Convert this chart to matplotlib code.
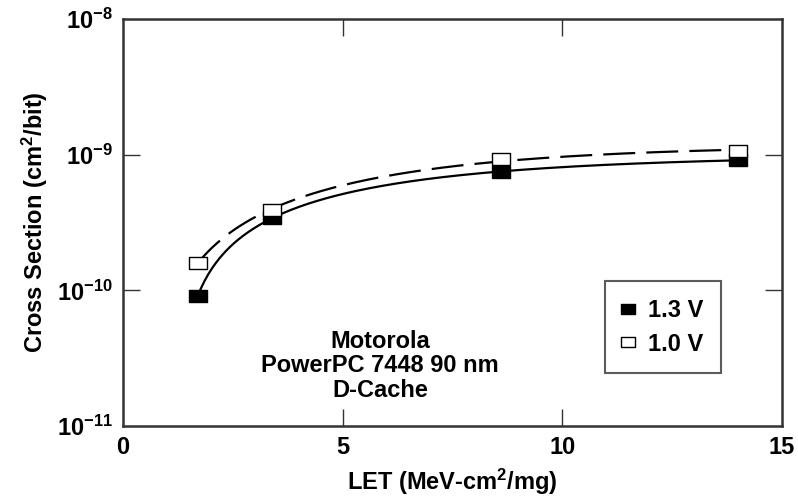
import matplotlib
matplotlib.use('Agg')
import matplotlib.pyplot as plt
import numpy as np

# Data
let_13 = [1.7, 3.4, 8.6, 14.0]
xs_13 = [9.1e-11, 3.4e-10, 7.5e-10, 9.1e-10]
let_10 = [1.7, 3.4, 8.6, 14.0]
xs_10 = [1.6e-10, 3.9e-10, 9.3e-10, 1.06e-9]
series_labels = ['1.3 V', '1.0 V']
note_lines = ['Motorola', 'PowerPC 7448 90 nm', 'D-Cache']

plt.rcParams['font.family'] = ['Liberation Sans', 'DejaVu Sans']
plt.rcParams['font.weight'] = 'bold'
plt.rcParams['mathtext.fontset'] = 'custom'
plt.rcParams['mathtext.rm'] = 'Liberation Sans:bold'
plt.rcParams['mathtext.bf'] = 'Liberation Sans:bold'
plt.rcParams['mathtext.it'] = 'Liberation Sans:bold'
plt.rcParams['lines.scale_dashes'] = False


def weibull_fit(x, y):
    # grid search for a Weibull curve through the measured points (log space)
    x = np.asarray(x)
    ly = np.log10(y)
    best = None
    for l0 in np.linspace(0.5, 1.65, 24):
        for w in np.linspace(0.5, 12, 47):
            for s in np.linspace(0.3, 3, 28):
                f = 1 - np.exp(-((x - l0) / w) ** s)
                lsat = np.mean(ly - np.log10(f))
                err = np.sum((ly - lsat - np.log10(f)) ** 2)
                if best is None or err < best[0]:
                    best = (err, l0, w, s, 10 ** lsat)
    _, l0, w, s, sat = best
    return lambda t: sat * (1 - np.exp(-((t - l0) / w) ** s))


fig = plt.figure(figsize=(7.98, 4.99), dpi=100)
ax = fig.add_axes([0.154, 0.146, 0.826, 0.816])

t = np.linspace(1.7, 14.0, 300)
f13 = weibull_fit(let_13, xs_13)
f10 = weibull_fit(let_10, xs_10)
ax.plot(t, f13(t), color='black', lw=1.6, zorder=2)
ax.plot(t, f10(t), color='black', lw=1.6, dashes=(23, 8), zorder=2)

rect = [(-1, -0.7), (1, -0.7), (1, 0.7), (-1, 0.7), (-1, -0.7)]
ax.plot(let_13, xs_13, ls='none', marker=rect, ms=13, mfc='black', mec='black',
        mew=1.0, label=series_labels[0], zorder=3)
ax.plot(let_10, xs_10, ls='none', marker=rect, ms=13, mfc='white', mec='black',
        mew=1.0, label=series_labels[1], zorder=3)

ax.set_yscale('log')
ax.set_xlim(0, 15)
ax.set_ylim(1e-11, 1e-8)
ax.set_xticks([0, 5, 10, 15])
ax.set_xticklabels(['0', '5', '10', '15'])
ax.set_yticks([1e-11, 1e-10, 1e-9, 1e-8])
ax.set_yticklabels([r'$10^{-11}$', r'$10^{-10}$', r'$10^{-9}$', r'$10^{-8}$'])
ax.minorticks_off()
ax.tick_params(direction='in', length=12, width=1, top=True, right=True,
               labelsize=17, pad=7, color='#333333')
# hide ticks at axis ends like the reference
for tk in ax.xaxis.get_major_ticks()[::3]:
    tk.tick1line.set_visible(False)
    tk.tick2line.set_visible(False)
for tk in ax.yaxis.get_major_ticks()[::3]:
    tk.tick1line.set_visible(False)
    tk.tick2line.set_visible(False)

for sp in ax.spines.values():
    sp.set_linewidth(1.8)
    sp.set_color('#333333')

ax.set_xlabel('LET (MeV-cm$^2$/mg)', fontsize=17, fontweight='bold', labelpad=6)
ax.set_ylabel('Cross Section (cm$^2$/bit)', fontsize=17, fontweight='bold', labelpad=5)

ax.text(5.85, 1.5e-11, '\n'.join(note_lines), ha='center', va='bottom',
        fontsize=17, fontweight='bold', linespacing=1.1)

leg = ax.legend(loc='upper left', bbox_to_anchor=(0.731, 0.356), fontsize=17,
                frameon=True, fancybox=False, edgecolor='#333333',
                handlelength=0.5, handletextpad=0.6, borderpad=0.75,
                labelspacing=0.45, markerscale=0.75, borderaxespad=0)
leg.get_frame().set_linewidth(1.5)

fig.savefig('out.png', dpi=100)
